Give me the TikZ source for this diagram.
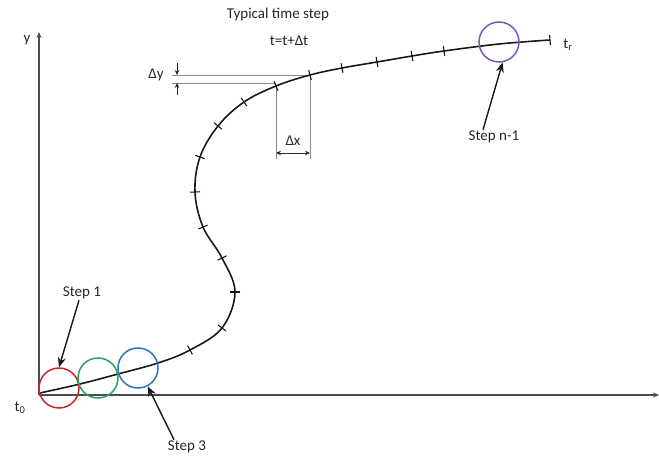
\documentclass[tikz,border=0pt]{standalone}
\usepackage{fontspec}
\setmainfont{Carlito}
\usetikzlibrary{arrows.meta,calc}
\definecolor{stepred}{RGB}{205,35,45}
\definecolor{stepgreen}{RGB}{40,160,95}
\definecolor{stepblue}{RGB}{45,115,190}
\definecolor{steppurple}{RGB}{125,85,185}
\tikzset{
  axisline/.style={draw=black!70, line width=2.3pt, -{Stealth[length=6pt,width=5pt]}},
  curveline/.style={draw=black!90, line width=1.6pt},
  tickline/.style={draw=black!90, line width=1.1pt},
  dimline/.style={draw=black!45, line width=0.8pt},
  dimarrow/.style={draw=black!85, line width=0.9pt, -{Stealth[length=5pt,width=4.5pt]}},
  lbl/.style={font=\fontsize{15}{15}\selectfont, text=black!85, inner sep=1pt},
  callout/.style={draw=black!90, line width=1.4pt, -{Stealth[length=10pt,width=8pt]}},
  stepcircle/.style={circle, draw=#1, line width=1.5pt, minimum size=40pt, inner sep=0pt},
}
\newcommand\curvetick[3]{\draw[tickline] (#1,#2) ++(#3+90:5) -- ++(#3-90:10);}
\begin{document}
\begin{tikzpicture}[x=1pt,y=-1pt]
\useasboundingbox (0,0) rectangle (659,457);
% axes
\coordinate (O) at (39,395);
\coordinate (ytop) at (39,32);
\coordinate (xend) at (659,395);
\draw[axisline] (O) -- (ytop);
\draw[axisline] (O) -- (xend);
% dimension lines
\coordinate (dyA) at (172,75);
\coordinate (dyB) at (310,75);
\coordinate (dyC) at (172,83);
\coordinate (dyD) at (276,83);
\draw[dimline] (dyA) -- (dyB);
\draw[dimline] (dyC) -- (dyD);
\coordinate (dxA) at (276,86);
\coordinate (dxB) at (276,159);
\coordinate (dxC) at (310,75);
\coordinate (dxD) at (310,159);
\draw[dimline] (dxA) -- (dxB);
\draw[dimline] (dxC) -- (dxD);
\coordinate (dxL) at (276,153);
\coordinate (dxR) at (310,153);
\draw[dimarrow, {Stealth[length=5pt,width=4.5pt]}-{Stealth[length=5pt,width=4.5pt]}] (dxL) -- (dxR);
\coordinate (dyT0) at (177,63);
\coordinate (dyT1) at (177,75);
\coordinate (dyB0) at (177,95);
\coordinate (dyB1) at (177,83);
\draw[dimarrow] (dyT0) -- (dyT1);
\draw[dimarrow] (dyB0) -- (dyB1);
% curve
\draw[curveline] plot[smooth, tension=0.6] coordinates {
 (40,393) (80,384) (118,374) (158,363) (190,350) (222,328) (235,292)
 (222,258) (203,227) (195,192) (200,157) (218,126) (244,102) (276,86)
 (310,75) (342,68) (377,62) (412,56) (444,51) (499,44) (550,40)};
% ticks
\curvetick{190}{350}{-28.7}
\curvetick{222}{328}{-52.2}
\curvetick{235}{292}{-90}
\curvetick{222}{258}{-116.2}
\curvetick{203}{227}{-112.2}
\curvetick{195}{192}{-92.5}
\curvetick{200}{157}{-70.8}
\curvetick{218}{126}{-51.3}
\curvetick{244}{102}{-34.6}
\curvetick{276}{86}{-22.2}
\curvetick{310}{75}{-15.3}
\curvetick{342}{68}{-11}
\curvetick{377}{62}{-9.7}
\curvetick{412}{56}{-9.3}
\curvetick{444}{51}{-7.9}
\curvetick{550}{40}{-4.5}
% circles
\node[stepcircle=stepred] (c1) at (59,388) {};
\node[stepcircle=stepgreen] (c2) at (98,378) {};
\node[stepcircle=stepblue] (c3) at (138,368) {};
\node[stepcircle=steppurple] (cn) at (499,42) {};
% labels
\node[lbl] (title) at (278,15) {Typical time step};
\node[lbl] (eq) at (289,41) {t=t+Δt};
\node[lbl] (ylab) at (27,40) {y};
\node[lbl] (t0) at (20,408) {t\textsubscript{0}};
\node[lbl] (tr) at (568,45) {t\textsubscript{r}};
\node[lbl] (dylab) at (156,75) {Δy};
\node[lbl] (dxlab) at (293,141) {Δx};
\node[lbl] (s1) at (82,293) {Step 1};
\node[lbl] (s3) at (187,447) {Step 3};
\node[lbl] (sn) at (494,137) {Step n-1};
% callouts
\draw[callout] ($(s1.south)+(-3,0)$) -- (c1.north);
\draw[callout] ($(s3.north)+(-13,0)$) -- (c3.-62);
\draw[callout] ($(sn.north)+(-11,0)$) -- (cn.-80);
\end{tikzpicture}
\end{document}
